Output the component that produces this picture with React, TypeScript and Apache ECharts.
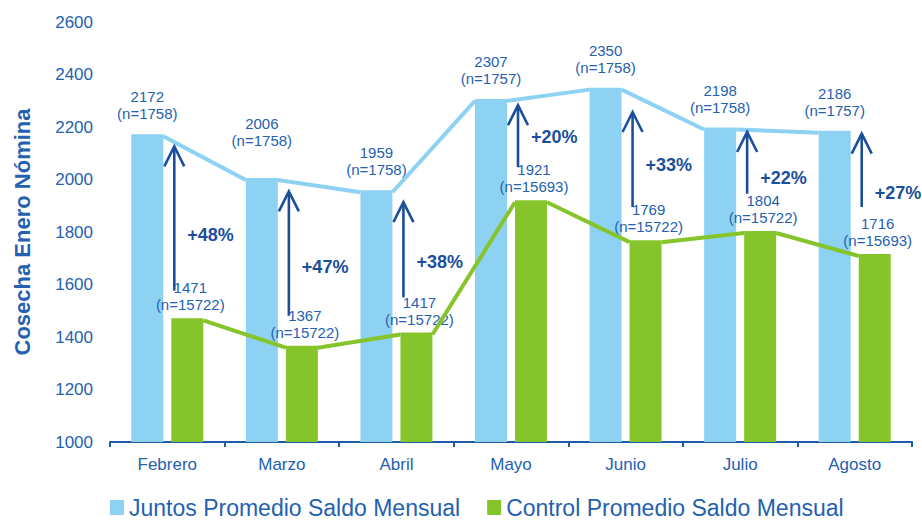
import React, { useEffect, useRef } from "react";
import * as echarts from "echarts";

const months = ["Febrero", "Marzo", "Abril", "Mayo", "Junio", "Julio", "Agosto"];
const juntos = [2172, 2006, 1959, 2307, 2350, 2198, 2186];
const juntosN = [1758, 1758, 1758, 1757, 1758, 1758, 1757];
const control = [1471, 1367, 1417, 1921, 1769, 1804, 1716];
const controlN = [15722, 15722, 15722, 15693, 15722, 15722, 15693];
// annotation arrows (value units): base and tip, and level of the % label
const arrowBase = [1577, 1481, 1551, 2047, 1895, 1946, 1895];
const arrowTip = [2126, 1955, 1914, 2283, 2257, 2181, 2175];
const pctLevel = [1787, 1666, 1685, 2162, 2054, 2004, 1947];
const yTicks = { min: 1000, max: 2600, interval: 200 };

const JUNTOS_NAME = "Juntos Promedio Saldo Mensual";
const CONTROL_NAME = "Control Promedio Saldo Mensual";

const BLUE = "#8DD2F2";
const GREEN = "#86C42C";
const TEXT = "#2461B0";
const DARK = "#1B4F9C";
const FONT = "'Liberation Sans', Arial, sans-serif";
const BAR_W = 32;
const BAR_GAP = 8;
const OFF = (BAR_W + BAR_GAP) / 2;

function seriesLine(values: number[], offset: number, color: string, name: string) {
  const data = values.slice(0, -1).map((v, i) => [i, v, values[i + 1]]);
  return {
    type: "custom",
    name,
    coordinateSystem: "cartesian2d",
    z: 5,
    silent: true,
    encode: { x: 0, y: 1 },
    data,
    renderItem: (params: any, api: any) => {
      const i = api.value(0);
      const p1 = api.coord([i, api.value(1)]);
      const p2 = api.coord([i + 1, api.value(2)]);
      return {
        type: "line",
        shape: {
          x1: p1[0] + offset + BAR_W / 2,
          y1: p1[1] + 2,
          x2: p2[0] + offset - BAR_W / 2,
          y2: p2[1] + 2,
        },
        style: { stroke: color, lineWidth: 4 },
      };
    },
  };
}

export default function App() {
  const ref = useRef<HTMLDivElement>(null);
  useEffect(() => {
    if (!ref.current) return;
    const chart = echarts.init(ref.current, null, { renderer: "svg" });
    const pct = juntos.map((j, i) => Math.round(((j - control[i]) / control[i]) * 100));
    const arrowData = months.map((_, i) => [i, arrowBase[i], arrowTip[i], pctLevel[i], pct[i]]);
    chart.setOption({
      animation: false,
      textStyle: { fontFamily: FONT },
      grid: { left: 110, right: 10, top: 22, bottom: 80 },
      legend: {
        data: [JUNTOS_NAME, CONTROL_NAME],
        left: 110,
        top: 496,
        padding: 0,
        icon: "rect",
        itemWidth: 14,
        itemHeight: 15,
        itemGap: 27,
        textStyle: { color: TEXT, fontSize: 23, fontFamily: FONT },
      },
      xAxis: {
        type: "category",
        data: months,
        axisLine: { lineStyle: { color: "#1F5AA8", width: 2 } },
        axisTick: { show: true, length: 5, lineStyle: { color: "#1F5AA8", width: 2 } },
        axisLabel: { color: TEXT, fontSize: 17, margin: 14, fontFamily: FONT },
      },
      yAxis: {
        type: "value",
        min: yTicks.min,
        max: yTicks.max,
        interval: yTicks.interval,
        name: "Cosecha Enero Nómina",
        nameLocation: "middle",
        nameGap: 77,
        nameTextStyle: { color: TEXT, fontSize: 22, fontWeight: "bold", fontFamily: FONT },
        axisLine: { show: false },
        axisTick: { show: false },
        splitLine: { show: false },
        axisLabel: {
          color: TEXT,
          fontSize: 17,
          margin: 17,
          fontFamily: FONT,
          formatter: (v: number) => String(v),
        },
      },
      series: [
        {
          type: "bar",
          name: JUNTOS_NAME,
          barWidth: BAR_W,
          barGap: (BAR_GAP / BAR_W) * 100 + "%",
          itemStyle: { color: BLUE },
          data: juntos.map((v, i) => ({
            value: v,
            label: i === 1 ? { distance: 29 } : undefined,
          })),
          label: {
            show: true,
            position: "top",
            distance: 12,
            color: TEXT,
            fontSize: 15,
            lineHeight: 17,
            fontFamily: FONT,
            formatter: (p: any) => `${p.value}\n(n=${juntosN[p.dataIndex]})`,
          },
        },
        {
          type: "bar",
          name: CONTROL_NAME,
          barWidth: BAR_W,
          itemStyle: { color: GREEN },
          data: control,
          label: {
            show: true,
            position: "top",
            distance: 5,
            offset: [3, 0],
            color: TEXT,
            fontSize: 15,
            lineHeight: 17,
            fontFamily: FONT,
            formatter: (p: any) => `${p.value}\n(n=${controlN[p.dataIndex]})`,
          },
        },
        seriesLine(juntos, -OFF, BLUE, "juntosLine"),
        seriesLine(control, OFF, GREEN, "controlLine"),
        {
          type: "custom",
          name: "arrows",
          coordinateSystem: "cartesian2d",
          z: 6,
          silent: true,
          encode: { x: 0, y: 1 },
          data: arrowData,
          renderItem: (params: any, api: any) => {
            const i = api.value(0);
            const b = api.coord([i, api.value(1)]);
            const t = api.coord([i, api.value(2)]);
            const l = api.coord([i, api.value(3)]);
            const x = b[0] + 7;
            return {
              type: "group",
              children: [
                {
                  type: "line",
                  shape: { x1: x, y1: b[1], x2: x, y2: t[1] + 1 },
                  style: { stroke: DARK, lineWidth: 2.6 },
                },
                {
                  type: "polyline",
                  shape: { points: [[x - 10, t[1] + 20], [x, t[1]], [x + 10, t[1] + 20]] },
                  style: { stroke: DARK, lineWidth: 2.6, fill: null },
                },
                {
                  type: "text",
                  x: x + 13,
                  y: l[1],
                  style: {
                    text: `+${api.value(4)}%`,
                    fill: DARK,
                    font: `bold 18px ${FONT}`,
                    align: "left",
                    verticalAlign: "middle",
                  },
                },
              ],
            };
          },
        },
      ],
    });
    return () => chart.dispose();
  }, []);
  return (
    <div
      ref={ref}
      style={{ position: "fixed", left: 0, top: 0, width: 922, height: 522, background: "#fff" }}
    />
  );
}
